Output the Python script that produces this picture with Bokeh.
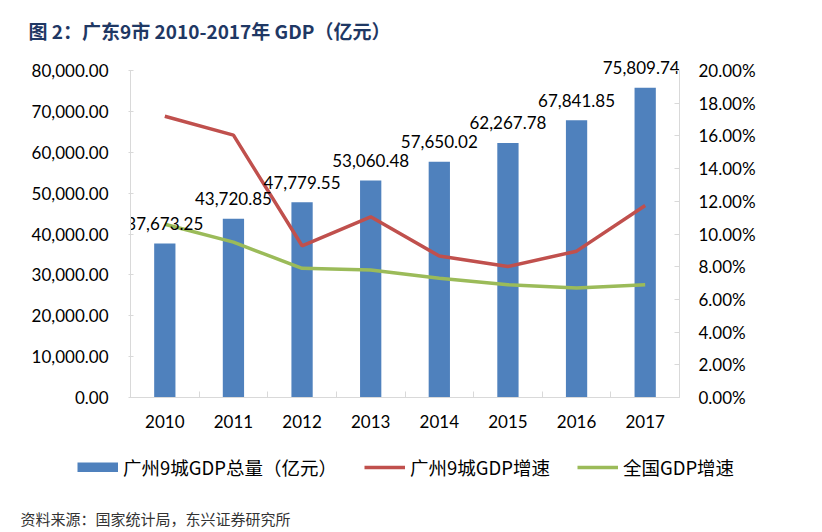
from bokeh.plotting import figure
from bokeh.layouts import column
from bokeh.models import (Range1d, LinearAxis, FixedTicker, NumeralTickFormatter, Plot,
                          PrintfTickFormatter, Label, Legend, LegendItem, ColumnDataSource)
from bokeh.core.properties import value
from bokeh.embed import file_html
from bokeh.resources import INLINE

# ---------------- data ----------------
years = ["2010", "2011", "2012", "2013", "2014", "2015", "2016", "2017"]
gdp_9cities = [37673.25, 43720.85, 47779.55, 53060.48, 57650.02, 62267.78, 67841.85, 75809.74]
growth_9cities = [17.2, 16.05, 9.28, 11.05, 8.65, 8.01, 8.95, 11.74]
growth_national = [10.6, 9.5, 7.9, 7.8, 7.3, 6.9, 6.7, 6.9]
left_ticks = [0, 10000, 20000, 30000, 40000, 50000, 60000, 70000, 80000]
right_ticks = [0, 2, 4, 6, 8, 10, 12, 14, 16, 18, 20]
left_max = 80000
right_max = 20

title_text = "图 2：广东9市 2010-2017年 GDP（亿元）"
source_text = "资料来源：国家统计局，东兴证券研究所"
legend_labels = ["广州9城GDP总量（亿元）", "广州9城GDP增速", "全国GDP增速"]

BLUE = "#4F81BD"
RED = "#C0504D"
GREEN = "#9BBB59"
AXIS = "#D9D9D9"
NUM_FONT = "Lato"
CJK_FONT = "Noto Sans CJK SC"

W = 822
TITLE_H = 50
MAIN_H = 390
BOTTOM_H = 532 - TITLE_H - MAIN_H

HAS_FRAME_ALIGN = "frame_align" in Plot.properties()


def blank(h):
    f = figure(width=W, height=h, output_backend="svg", toolbar_location=None,
               x_range=Range1d(0, 1), y_range=Range1d(0, 1),
               x_axis_type=None, y_axis_type=None, min_border=0, title=None)
    f.outline_line_color = None
    f.grid.visible = False
    if HAS_FRAME_ALIGN:
        f.frame_align = False
    return f


# ---------------- title strip ----------------
tfig = blank(TITLE_H)
tfig.add_layout(Label(x=28, y=20, x_units="screen", y_units="screen", text=title_text,
                      text_font=CJK_FONT, text_font_size="19px", text_font_style="bold",
                      text_color="#1F3864", text_baseline="middle"))

# ---------------- main chart ----------------
xpos = [i + 0.5 for i in range(len(years))]
label_shift = [0] * (len(years) - 1) + [-4]   # keep last label clear of the frame edge
src = ColumnDataSource(dict(
    x=xpos, gdp=gdp_9cities, g9=growth_9cities, gn=growth_national,
    lbl=[f"{v:,.2f}" for v in gdp_9cities], dx=label_shift,
))

top_pad = 5
bottom_pad = 43
frame_h = MAIN_H - top_pad - bottom_pad          # 342 px
head = 15                                           # px of headroom above the top tick
scale = frame_h / (frame_h - head)

p = figure(width=W, height=MAIN_H, output_backend="svg", toolbar_location=None,
           x_range=Range1d(0, len(years)), y_range=Range1d(0, left_max * scale),
           min_border_left=130, min_border_right=143, min_border_top=top_pad,
           min_border_bottom=bottom_pad, title=None)
p.outline_line_color = None
p.xgrid.visible = False
p.ygrid.visible = False
if HAS_FRAME_ALIGN:
    p.frame_align = False

p.extra_y_ranges = {"pct": Range1d(0, right_max * scale)}

p.vbar(x="x", top="gdp", width=0.31, source=src, fill_color=BLUE, line_color=None)
p.line(x="x", y="g9", source=src, y_range_name="pct", line_color=RED, line_width=3.5)
p.line(x="x", y="gn", source=src, y_range_name="pct", line_color=GREEN, line_width=3.5)

p.text(x="x", y="gdp", text="lbl", source=src, text_align="center",
       text_baseline="alphabetic", y_offset=-20, x_offset="dx", text_font=value(NUM_FONT),
       text_font_size="17px", text_color="#000000")

xa = p.xaxis[0]
xa.ticker = FixedTicker(ticks=xpos, minor_ticks=list(range(len(years) + 1)))
xa.major_label_overrides = {x: y for x, y in zip(xpos, years)}
xa.major_tick_in = 0
xa.major_tick_out = 0
xa.minor_tick_in = 6
xa.minor_tick_out = 0
xa.minor_tick_line_color = AXIS
xa.axis_line_color = AXIS
xa.major_label_standoff = 17
xa.major_label_text_font = NUM_FONT
xa.major_label_text_font_size = "17px"
xa.major_label_text_color = "#000000"

ya = p.yaxis[0]
ya.ticker = FixedTicker(ticks=left_ticks)
ya.formatter = NumeralTickFormatter(format="0,0.00")
ya.bounds = (0, left_max)
ya.minor_tick_line_color = None
ya.major_tick_in = 3
ya.major_tick_out = 2
ya.major_tick_line_color = AXIS
ya.axis_line_color = AXIS
ya.major_label_standoff = 20
ya.major_label_text_font = NUM_FONT
ya.major_label_text_font_size = "17px"
ya.major_label_text_color = "#000000"

ra = LinearAxis(y_range_name="pct", ticker=FixedTicker(ticks=right_ticks),
                formatter=PrintfTickFormatter(format="%.2f%%"), bounds=(0, right_max))
ra.minor_tick_line_color = None
ra.major_tick_in = 5
ra.major_tick_out = 0
ra.major_tick_line_color = AXIS
ra.axis_line_color = AXIS
ra.major_label_standoff = 19
ra.major_label_text_font = NUM_FONT
ra.major_label_text_font_size = "17px"
ra.major_label_text_color = "#000000"
p.add_layout(ra, "right")

# ---------------- legend + source strip ----------------
bfig = blank(BOTTOM_H)
# legend swatches: renderers whose points lie outside the strip's visible range
off = [5, 6]
r_bar = bfig.line(x=off, y=off, line_color=BLUE, line_width=10)
r_red = bfig.line(x=off, y=off, line_color=RED, line_width=3.5)
r_green = bfig.line(x=off, y=off, line_color=GREEN, line_width=3.5)
legend = Legend(items=[LegendItem(label=legend_labels[0], renderers=[r_bar]),
                       LegendItem(label=legend_labels[1], renderers=[r_red]),
                       LegendItem(label=legend_labels[2], renderers=[r_green])],
                orientation="horizontal", location=(77, 52),
                glyph_width=41, glyph_height=10, label_standoff=5, spacing=27,
                padding=0, margin=0, border_line_alpha=0, background_fill_alpha=0,
                label_text_font=CJK_FONT, label_text_font_size="18.5px",
                label_text_color="#000000")
bfig.add_layout(legend)
bfig.add_layout(Label(x=20, y=14, x_units="screen", y_units="screen", text=source_text,
                      text_font=CJK_FONT, text_font_size="15px",
                      text_color="#333333", text_baseline="middle"))

layout = column(tfig, p, bfig, spacing=0)
open("out.html", "w").write(file_html(layout, INLINE))
